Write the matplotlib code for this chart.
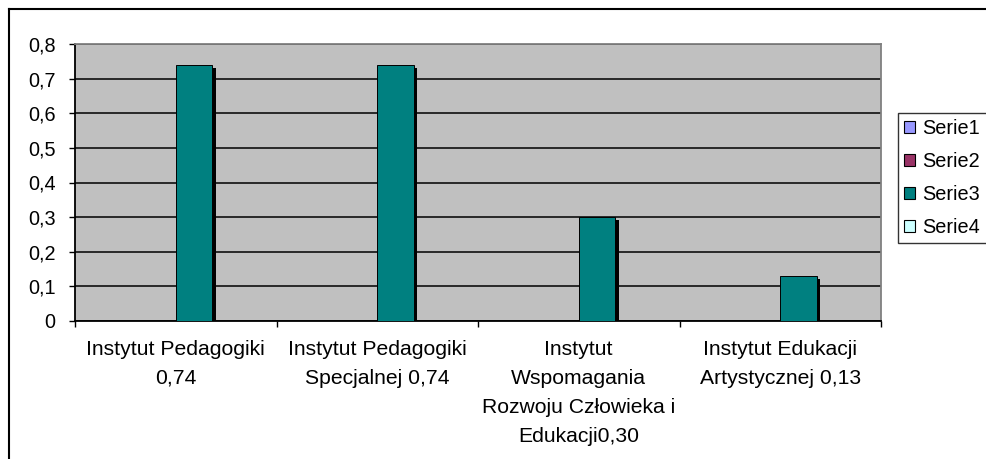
import numpy as np
import matplotlib.pyplot as plt
import matplotlib.patheffects as pe
from matplotlib.lines import Line2D

plt.rcParams['font.family'] = ['Liberation Sans', 'DejaVu Sans']

categories = ['Instytut Pedagogiki\n0,74',
              'Instytut Pedagogiki\nSpecjalnej 0,74',
              'Instytut\nWspomagania\nRozwoju Człowieka i\nEdukacji0,30',
              'Instytut Edukacji\nArtystycznej 0,13']
series_names = ['Serie1', 'Serie2', 'Serie3', 'Serie4']
serie1 = [0, 0, 0, 0]
serie2 = [0, 0, 0, 0]
serie3 = [0.74, 0.74, 0.30, 0.13]
serie4 = [0, 0, 0, 0]
colors = ['#9999FF', '#993366', '#008080', '#CCFFFF']
yticks = [0, 0.1, 0.2, 0.3, 0.4, 0.5, 0.6, 0.7, 0.8]
ytick_labels = ['0', '0,1', '0,2', '0,3', '0,4', '0,5', '0,6', '0,7', '0,8']

fig = plt.figure(figsize=(9.86, 4.59), dpi=100)
ax = fig.add_axes([75/986, 1 - 321/459, (881-75)/986, (321-44)/459])
ax.set_facecolor('#C0C0C0')

x = np.arange(len(categories)) + 0.5
w = 1 / 5.5
shadow = [pe.SimplePatchShadow(offset=(2.5, -2.2), shadow_rgbFace='black', alpha=1), pe.Normal()]
for i, vals in enumerate([serie1, serie2, serie3, serie4]):
    bars = ax.bar(x - 2*w + i*w, vals, width=w, align='edge', color=colors[i],
                  edgecolor='black', linewidth=0.7, label=series_names[i], zorder=3)
    for b, v in zip(bars, vals):
        if v > 0:
            b.set_path_effects(shadow)
        else:
            b.set_visible(False)

ax.set_xlim(0, 4)
ax.set_ylim(0, 0.8)
ax.set_yticks(yticks)
ax.set_yticklabels(ytick_labels, fontsize=14.3)
ax.yaxis.grid(True, color='black', linewidth=1.1, zorder=1)
ax.set_axisbelow(True)
ax.set_xticks([0, 1, 2, 3, 4])
ax.set_xticklabels([])
ax.set_xticks(x, minor=True)
ax.set_xticklabels(categories, minor=True, fontsize=15.2, linespacing=1.68)
ax.tick_params(axis='x', which='minor', length=0, pad=13.5)
ax.tick_params(axis='both', which='major', direction='out', length=4.5, width=1, color='black')
ax.tick_params(axis='y', pad=9.5)
for s in ['left', 'bottom']:
    ax.spines[s].set_color('black')
    ax.spines[s].set_linewidth(1.3)
for s in ['top', 'right']:
    ax.spines[s].set_color('#808080')
    ax.spines[s].set_linewidth(1.3)

# legend, partly outside the right edge like the original
leg = fig.legend(loc='upper left', bbox_to_anchor=(898/986, 1 - 113/459, 0.2, 0.0001),
                 mode='expand', fontsize=14.3, frameon=True, fancybox=False,
                 handlelength=0.55, handleheight=0.55, handletextpad=0.35,
                 labelspacing=0.7, borderpad=0.32, borderaxespad=0)
leg.get_frame().set_edgecolor('black')
leg.get_frame().set_linewidth(1.0)
for h in leg.legend_handles:
    h.set_visible(True)
    h.set_path_effects([])
    h.set_edgecolor('black')
    h.set_linewidth(0.8)

# outer chart border
fig.add_artist(Line2D([9/986, 1.0], [1 - 9/459, 1 - 9/459], color='black', linewidth=1.5))
fig.add_artist(Line2D([9/986, 9/986], [0.0, 1 - 9/459], color='black', linewidth=1.5))

fig.savefig('out.png', dpi=100)
